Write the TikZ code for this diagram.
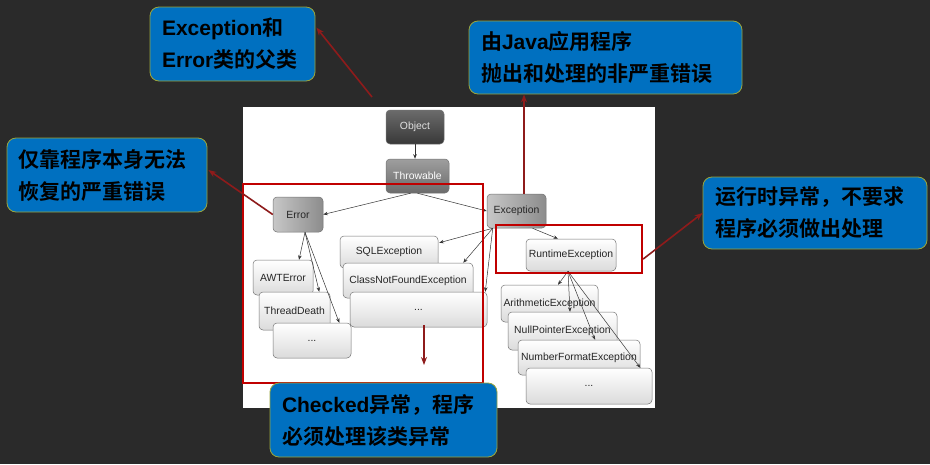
\documentclass[tikz,border=0pt]{standalone}
\usepackage{fontspec}
\setmainfont{Liberation Sans}
\newfontfamily\cjk{Noto Sans CJK SC}[BoldFont={Noto Sans CJK SC Bold}]
\usetikzlibrary{arrows.meta,calc}
\definecolor{board}{HTML}{2A2A2A}
\definecolor{calblue}{HTML}{0070C0}
\definecolor{calrim}{HTML}{9BA53C}
\definecolor{framered}{HTML}{C00000}
\definecolor{leadred}{HTML}{8E1B1B}
\newcommand{\zh}[1]{{\cjk\bfseries #1}}

\begin{document}
\begin{tikzpicture}[
  x=1pt, y=-1pt,
  font=\fontsize{10.4}{12}\selectfont,
  cls/.style={rectangle, rounded corners=4pt, draw=black!55, line width=0.5pt,
              align=center, inner sep=0pt},
  root/.style={cls, top color=black!58, bottom color=black!78, text=black!12},
  mid/.style={cls, top color=black!38, bottom color=black!58, text=white},
  base/.style={cls, left color=black!22, right color=black!45, text=black!85},
  leaf/.style={cls, top color=white, bottom color=black!14, text=black!85},
  frame/.style={rectangle, draw=framered, line width=2.2pt, inner sep=0pt},
  callout/.style={rectangle, draw=calrim, line width=0.8pt, fill=calblue,
                  rounded corners=9pt, align=left, inner xsep=12pt, inner ysep=0pt,
                  font=\fontsize{21}{32}\selectfont\bfseries, text=black},
  tree/.style={-{Stealth[length=4.5pt, width=3.5pt]}, draw=black!80, line width=0.5pt},
  lead/.style={-{Stealth[length=8pt, width=6pt]}, draw=leadred, line width=1.6pt}
]
\useasboundingbox (0,0) rectangle (930,464);

% ---------- board + panel ----------
\fill[board] (0,0) rectangle (930,464);
\fill[white] (243,107) rectangle (655,408);

% ---------- hierarchy ----------
\node[root, minimum width=58, minimum height=34] (obj) at (415,127) {Object};
\node[mid, minimum width=63, minimum height=34] (thr) at (417.5,176) {Throwable};
\node[base, minimum width=50, minimum height=35] (err) at (298,214.5) {Error};
\node[base, minimum width=59, minimum height=34] (exc) at (516.5,211) {Exception};
\node[leaf, minimum width=90, minimum height=32] (rte) at (571,255) {RuntimeException};

% error branch
\node[leaf, minimum width=60, minimum height=35] (awt) at (283,277.5) {AWTError};
\node[leaf, minimum width=71, minimum height=38] (thd) at (294.5,311) {ThreadDeath};
\node[leaf, minimum width=78, minimum height=35] (edots) at (312,340.5) {...};

% checked branch
\node[leaf, minimum width=98, minimum height=32] (sqlx) at (389,252) {SQLException};
\node[leaf, minimum width=130, minimum height=35] (cnfx) at (408,280.5) {ClassNotFoundException};
\node[leaf, minimum width=137, minimum height=35] (cdots) at (418.5,309.5) {...};

% runtime branch
\node[leaf, minimum width=97, minimum height=37] (arith) at (549.5,303.5) {ArithmeticException};
\node[leaf, minimum width=109, minimum height=38] (nptr) at (562.5,331) {NullPointerException};
\node[leaf, minimum width=122, minimum height=35] (nfmt) at (579,357.5) {NumberFormatException};
\node[leaf, minimum width=126, minimum height=36] (rdots) at (589,386) {...};

% edges
\draw[tree] (obj.south) -- (obj.south |- thr.north);
\draw[tree] ($(thr.south)+(-7,0)$) -- (err.east);
\draw[tree] (thr.south) -- (exc.west);
\draw[tree] ($(exc.south west)+(6,0)$) -- ($(sqlx.north east)+(1,7)$);
\draw[tree] ($(exc.south west)+(6,0)$) -- ($(cnfx.north east)+(-10,0)$);
\draw[tree] ($(exc.south west)+(6,0)$) -- ($(cdots.north east)+(-2,0)$);
\draw[tree] ($(exc.south)+(16,0)$) -- ($(rte.north)+(-13,0)$);
\draw[tree] ($(err.south)+(7,0)$) -- ($(awt.north)+(16,0)$);
\draw[tree] ($(err.south)+(7,0)$) -- ($(thd.north east)+(-11,0)$);
\draw[tree] ($(err.south)+(7,0)$) -- ($(edots.north east)+(-12,0)$);
\draw[tree] ($(rte.south)+(-3,0)$) -- ($(arith.north)+(8.5,0)$);
\draw[tree] ($(rte.south)+(-3,0)$) -- ($(nptr.north)+(7.5,0)$);
\draw[tree] ($(rte.south)+(-3,0)$) -- ($(nfmt.north)+(16,0)$);
\draw[tree] ($(rte.south)+(-3,0)$) -- ($(rdots.north east)+(-12,0)$);

% ---------- red frames ----------
\node[frame, minimum width=240, minimum height=199] (chkbox) at (363,283.5) {};
\node[frame, minimum width=146, minimum height=48] (rtbox) at (569,249) {};

% ---------- callouts ----------
\node[callout, text width=141, minimum height=74] (cObj) at (232.5,44)
  {Exception\zh{和}\\Error\zh{类的父类}};
\node[callout, text width=176, minimum height=74] (cErr) at (107,175)
  {\zh{仅靠程序本身无法}\\\zh{恢复的严重错误}};
\node[callout, text width=249, minimum height=73] (cJava) at (605.5,57.5)
  {\zh{由}Java\zh{应用程序}\\\zh{抛出和处理的非严重错误}};
\node[callout, text width=200, minimum height=72] (cRt) at (815,213)
  {\zh{运行时异常，不要求}\\\zh{程序必须做出处理}};
\node[callout, text width=203, minimum height=74] (cChk) at (383.5,420)
  {Checked\zh{异常，程序}\\\zh{必须处理该类异常}};

% leaders
\coordinate (objtip) at (372,97);
\coordinate (chktip) at (424,365);
\draw[lead] (objtip) -- ($(cObj.north east)+(1,21)$);
\draw[lead] (err.west) -- ($(cErr.east)+(1,-5)$);
\draw[lead] ($(exc.north)+(7.5,0)$) coordinate (jt) -- (jt |- cJava.south);
\draw[lead] ($(rtbox.south east)+(0,-15)$) -- (cRt.west);
\draw[lead] ($(cdots.south)+(5.5,-2)$) -- (chktip);

\end{tikzpicture}
\end{document}
